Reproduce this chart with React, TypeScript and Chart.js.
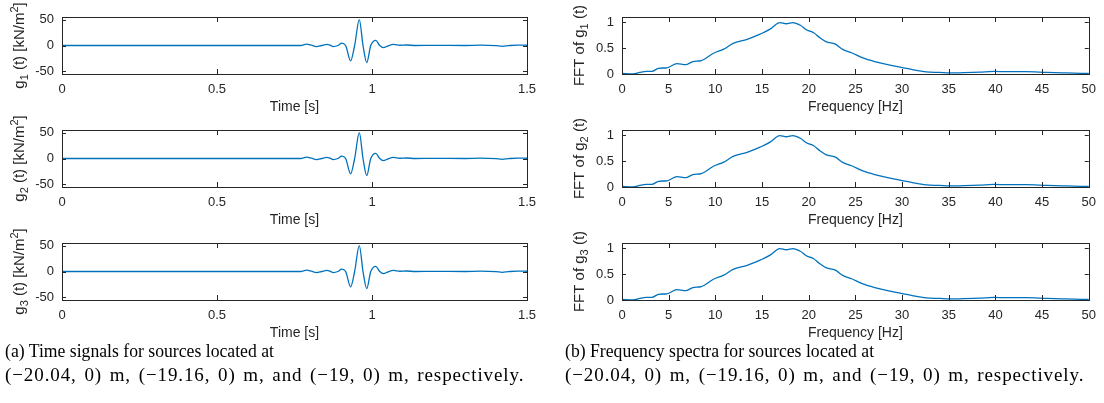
import React, { useEffect, useRef } from "react";
import { Chart, registerables } from "chart.js";

Chart.register(...registerables);

// ---------- data ----------
const timeSeconds = [0, 0.77, 0.789, 0.805, 0.821, 0.838, 0.854, 0.865, 0.875, 0.89, 0.902, 0.915, 0.931, 0.944, 0.959, 0.971, 0.983, 0.996, 1.012, 1.025, 1.037, 1.05, 1.069, 1.09, 1.11, 1.14, 1.2, 1.3, 1.35, 1.4, 1.42, 1.44, 1.47, 1.5];
const g1Values = [0, 0, 2.5, 0.5, -2, 0, 2, 0.5, -2, 0, 4.5, 0, -29.5, 0, 50, 0, -33, 0, 10, 0, -4, -1, 2, 0.5, 1, 0, 0.4, 0, 0.6, -0.3, -1.5, -0.3, 0.8, 0.5];
const g2Values = [0, 0, 2.5, 0.5, -2, 0, 2, 0.5, -2, 0, 4.5, 0, -29.5, 0, 50, 0, -33, 0, 10, 0, -4, -1, 2, 0.5, 1, 0, 0.4, 0, 0.6, -0.3, -1.5, -0.3, 0.8, 0.5];
const g3Values = [0, 0, 2.5, 0.5, -2, 0, 2, 0.5, -2, 0, 4.5, 0, -29.5, 0, 50, 0, -33, 0, 10, 0, -4, -1, 2, 0.5, 1, 0, 0.4, 0, 0.6, -0.3, -1.5, -0.3, 0.8, 0.5];

const freqHz = [0, 1.2, 1.9, 2.6, 3.2, 3.9, 4.8, 5.9, 6.8, 7.6, 8.5, 9.8, 10.9, 11.9, 13.4, 14.8, 15.9, 16.6, 16.9, 17.6, 18.3, 19.1, 19.8, 20.5, 21.2, 21.9, 22.8, 23.7, 24.6, 25.8, 27.3, 28.7, 29.9, 31.2, 32.6, 34.0, 35.1, 36.5, 38.3, 39.8, 41.2, 43.3, 45.5, 47.6, 50];
const fft1Values = [0.01, 0.0, 0.03, 0.05, 0.05, 0.11, 0.12, 0.2, 0.18, 0.24, 0.26, 0.4, 0.48, 0.59, 0.67, 0.77, 0.87, 0.97, 0.99, 0.97, 0.99, 0.94, 0.85, 0.8, 0.7, 0.62, 0.58, 0.47, 0.41, 0.31, 0.23, 0.17, 0.13, 0.08, 0.04, 0.03, 0.02, 0.025, 0.035, 0.05, 0.045, 0.045, 0.03, 0.02, 0.01];
const fft2Values = [0.01, 0.0, 0.03, 0.05, 0.05, 0.11, 0.12, 0.2, 0.18, 0.24, 0.26, 0.4, 0.48, 0.59, 0.67, 0.77, 0.87, 0.97, 0.99, 0.97, 0.99, 0.94, 0.85, 0.8, 0.7, 0.62, 0.58, 0.47, 0.41, 0.31, 0.23, 0.17, 0.13, 0.08, 0.04, 0.03, 0.02, 0.025, 0.035, 0.05, 0.045, 0.045, 0.03, 0.02, 0.01];
const fft3Values = [0.01, 0.0, 0.03, 0.05, 0.05, 0.11, 0.12, 0.2, 0.18, 0.24, 0.26, 0.4, 0.48, 0.59, 0.67, 0.77, 0.87, 0.97, 0.99, 0.97, 0.99, 0.94, 0.85, 0.8, 0.7, 0.62, 0.58, 0.47, 0.41, 0.31, 0.23, 0.17, 0.13, 0.08, 0.04, 0.03, 0.02, 0.025, 0.035, 0.05, 0.045, 0.045, 0.03, 0.02, 0.01];

const timeTicks = [0, 0.5, 1, 1.5];
const timeValueTicks = [-50, 0, 50];
const freqTicks = [0, 5, 10, 15, 20, 25, 30, 35, 40, 45, 50];
const fftValueTicks = [0, 0.5, 1];

const timeAxisTitle = "Time [s]";
const freqAxisTitle = "Frequency [Hz]";

const captionA = ["(a) Time signals for sources located at", "(\u221220.04, 0) m, (\u221219.16, 0) m, and (\u221219, 0) m, respectively."];
const captionB = ["(b) Frequency spectra for sources located at", "(\u221220.04, 0) m, (\u221219.16, 0) m, and (\u221219, 0) m, respectively."];

// ---------- styling ----------
const FONT = "'Liberation Sans', Arial, Helvetica, sans-serif";
const AXIS_COLOR = "#262626";
const LINE_COLOR = "#0072BD";

type Seg = { t: string; sub?: boolean; sup?: boolean };

const matlabAxes = {
  id: "matlabAxes",
  afterDatasetsDraw(chart: any, _args: any, opts: any) {
    const { ctx, chartArea, scales } = chart;
    const { left, right, top, bottom } = chartArea;
    const xs = scales.x;
    const ys = scales.y;
    ctx.save();
    ctx.strokeStyle = AXIS_COLOR;
    ctx.lineWidth = 1;
    ctx.beginPath();
    const xl = opts.xTickLen ?? 5;
    const yl = opts.yTickLen ?? 3;
    xs.ticks.forEach((t: any) => {
      const px = Math.round(xs.getPixelForValue(t.value)) + 0.5;
      ctx.moveTo(px, bottom);
      ctx.lineTo(px, bottom - xl);
      ctx.moveTo(px, top);
      ctx.lineTo(px, top + xl);
    });
    ys.ticks.forEach((t: any) => {
      const py = Math.round(ys.getPixelForValue(t.value)) + 0.5;
      ctx.moveTo(left, py);
      ctx.lineTo(left + yl, py);
      ctx.moveTo(right, py);
      ctx.lineTo(right - yl, py);
    });
    ctx.stroke();
    ctx.strokeRect(Math.round(left) + 0.5, Math.round(top) + 0.5, Math.round(right - left), Math.round(bottom - top));

    // y title with sub/superscripts
    const segs: Seg[] = opts.yTitle || [];
    const size = 15;
    const small = 11;
    const cx = left - 42;
    const cy = (top + bottom) / 2;
    ctx.translate(cx, cy);
    ctx.rotate(-Math.PI / 2);
    ctx.fillStyle = AXIS_COLOR;
    ctx.textBaseline = "middle";
    ctx.textAlign = "left";
    let total = 0;
    const widths = segs.map((s) => {
      ctx.font = `${s.sub || s.sup ? small : size}px ${FONT}`;
      const w = ctx.measureText(s.t).width;
      total += w;
      return w;
    });
    let x = -total / 2;
    segs.forEach((s, i) => {
      ctx.font = `${s.sub || s.sup ? small : size}px ${FONT}`;
      const dy = s.sub ? 5 : s.sup ? -5 : 0;
      ctx.fillText(s.t, x, dy);
      x += widths[i];
    });
    ctx.restore();
  },
};

type PanelProps = {
  left: number;
  top: number;
  width: number;
  rightPad: number;
  xs: number[];
  ys: number[];
  xMin: number;
  xMax: number;
  yMin: number;
  yMax: number;
  xTicks: number[];
  yTicks: number[];
  xTitle: string;
  yTitle: Seg[];
};

const BOX_TOP = 17;
const BOX_H = 57;
const X_AXIS_H = 44;
const Y_AXIS_W = 62;

function Panel(p: PanelProps) {
  const ref = useRef<HTMLCanvasElement | null>(null);
  useEffect(() => {
    if (!ref.current) return;
    const data = p.xs.map((x, i) => ({ x, y: p.ys[i] }));
    const chart = new Chart(ref.current, {
      type: "line",
      data: {
        datasets: [
          {
            data,
            borderColor: LINE_COLOR,
            borderWidth: 1.3,
            pointRadius: 0,
            fill: false,
            cubicInterpolationMode: "monotone",
            clip: 4,
          } as any,
        ],
      },
      plugins: [matlabAxes as any],
      options: {
        responsive: false,
        animation: false,
        devicePixelRatio: 1,
        layout: { padding: { top: BOX_TOP, right: p.rightPad, left: 0, bottom: 0 } },
        plugins: {
          legend: { display: false },
          tooltip: { enabled: false },
          matlabAxes: { yTitle: p.yTitle, xTickLen: 5, yTickLen: 4 },
        } as any,
        scales: {
          x: {
            type: "linear",
            min: p.xMin,
            max: p.xMax,
            grid: { display: false, drawTicks: false },
            border: { display: false },
            ticks: {
              color: AXIS_COLOR,
              font: { family: FONT, size: 13 },
              padding: 8,
              maxRotation: 0,
              autoSkip: false,
              callback: (v: any) => String(v),
            },
            afterBuildTicks: (s: any) => {
              s.ticks = p.xTicks.map((v) => ({ value: v }));
            },
            afterFit: (s: any) => {
              s.height = X_AXIS_H;
            },
            title: {
              display: true,
              text: p.xTitle,
              color: AXIS_COLOR,
              font: { family: FONT, size: 14 },
              padding: { top: 0, bottom: 2 },
            },
          },
          y: {
            type: "linear",
            min: p.yMin,
            max: p.yMax,
            grid: { display: false, drawTicks: false },
            border: { display: false },
            ticks: {
              color: AXIS_COLOR,
              font: { family: FONT, size: 13 },
              padding: 8,
              autoSkip: false,
              callback: (v: any) => String(v),
            },
            afterBuildTicks: (s: any) => {
              s.ticks = p.yTicks.map((v) => ({ value: v }));
            },
            afterFit: (s: any) => {
              s.width = Y_AXIS_W;
            },
          },
        },
      } as any,
    });
    return () => chart.destroy();
  }, []);
  const h = BOX_TOP + BOX_H + X_AXIS_H;
  return (
    <canvas
      ref={ref}
      width={p.width}
      height={h}
      style={{ position: "absolute", left: p.left, top: p.top, width: p.width, height: h }}
    />
  );
}

const gTitle = (n: string): Seg[] => [{ t: "g" }, { t: n, sub: true }, { t: " (t) [kN/m" }, { t: "2", sup: true }, { t: "]" }];
const fftTitle = (n: string): Seg[] => [{ t: "FFT of g" }, { t: n, sub: true }, { t: " (t)" }];

export default function App() {
  const rowTops = [0, 113, 226];
  const timeSets = [g1Values, g2Values, g3Values];
  const fftSets = [fft1Values, fft2Values, fft3Values];
  const captionBase: React.CSSProperties = {
    position: "absolute",
    fontFamily: "'Liberation Serif', 'Times New Roman', serif",
    color: "#000",
    whiteSpace: "nowrap",
    lineHeight: "24px",
  };
  const line1: React.CSSProperties = {
    fontSize: 19,
    transform: "scaleX(0.93)",
    transformOrigin: "left center",
  };
  const line2: React.CSSProperties = {
    fontSize: 19,
    wordSpacing: "2px",
    letterSpacing: "0.9px",
  };
  return (
    <div style={{ position: "absolute", left: 0, top: 0, width: 1104, height: 403, background: "#fff", overflow: "hidden" }}>
      {rowTops.map((t, i) => (
        <Panel
          key={"t" + i}
          left={0}
          top={t}
          width={560}
          rightPad={33}
          xs={timeSeconds}
          ys={timeSets[i]}
          xMin={0}
          xMax={1.5}
          yMin={-55}
          yMax={55}
          xTicks={timeTicks}
          yTicks={timeValueTicks}
          xTitle={timeAxisTitle}
          yTitle={gTitle(String(i + 1))}
        />
      ))}
      {rowTops.map((t, i) => (
        <Panel
          key={"f" + i}
          left={560}
          top={t}
          width={544}
          rightPad={15}
          xs={freqHz}
          ys={fftSets[i]}
          xMin={0}
          xMax={50}
          yMin={0}
          yMax={1.1}
          xTicks={freqTicks}
          yTicks={fftValueTicks}
          xTitle={freqAxisTitle}
          yTitle={fftTitle(String(i + 1))}
        />
      ))}
      <div style={{ ...captionBase, left: 5, top: 339 }}>
        <div style={line1}>{captionA[0]}</div>
        <div style={line2}>{captionA[1]}</div>
      </div>
      <div style={{ ...captionBase, left: 565, top: 339 }}>
        <div style={line1}>{captionB[0]}</div>
        <div style={line2}>{captionB[1]}</div>
      </div>
    </div>
  );
}
